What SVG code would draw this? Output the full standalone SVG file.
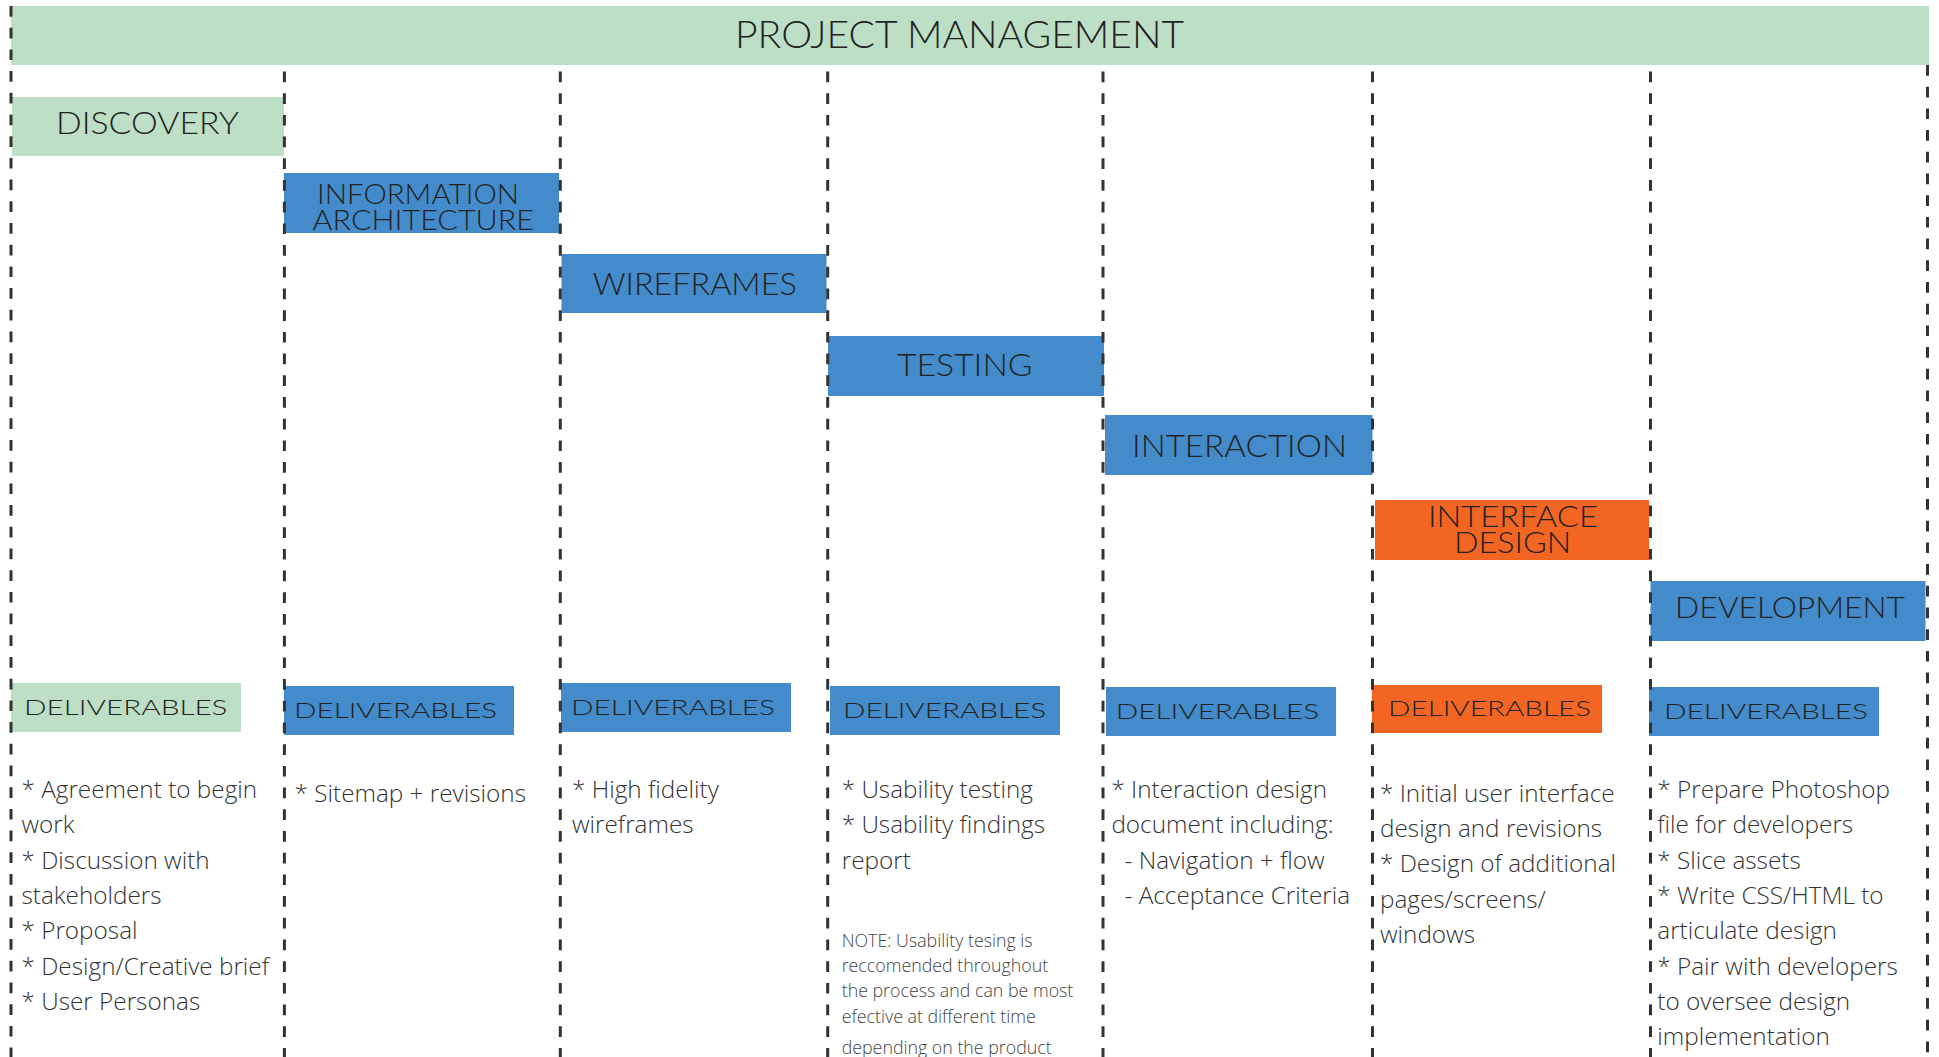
<svg xmlns="http://www.w3.org/2000/svg" width="1939" height="1057" viewBox="0 0 1939 1057">
  <style>
    .green { fill: #bcdfc6; }
    .blue { fill: #438bca; }
    .orange { fill: #f26522; }
    .head { font-family: Lato, "Open Sans", "Liberation Sans", sans-serif; font-weight: 300; fill: #222; }
    .deliv { font-family: Lato, "Liberation Sans", sans-serif; font-weight: 300; font-size: 22px; fill: #222; }
    .body { font-family: "Open Sans", "Liberation Sans", sans-serif; font-weight: 300; font-size: 24.3px; fill: #333; }
    .note { font-family: "Open Sans", "Liberation Sans", sans-serif; font-weight: 300; font-size: 17.8px; fill: #444; }
    .divider { stroke: #333; stroke-width: 3; stroke-dasharray: 10.7 11; fill: none; }
  </style>

  <!-- header banner -->
  <g id="project-management">
    <rect class="green" x="11" y="6" width="1918" height="59"/>
    <text class="head" x="735" y="48.3" font-size="37" textLength="449" lengthAdjust="spacingAndGlyphs">PROJECT MANAGEMENT</text>
  </g>

  <!-- phase bars -->
  <g id="discovery">
    <rect class="green" x="12" y="97" width="272" height="59"/>
    <text class="head" x="56" y="134" font-size="31" textLength="183" lengthAdjust="spacingAndGlyphs">DISCOVERY</text>
  </g>
  <g id="information-architecture">
    <rect class="blue" x="284" y="173" width="275" height="60"/>
    <text class="head" font-size="28">
      <tspan x="317" y="204" textLength="202" lengthAdjust="spacingAndGlyphs">INFORMATION</tspan>
      <tspan x="312.5" y="230" textLength="221.5" lengthAdjust="spacingAndGlyphs">ARCHITECTURE</tspan>
    </text>
  </g>
  <g id="wireframes">
    <rect class="blue" x="561.5" y="254" width="265" height="59"/>
    <text class="head" x="592.7" y="295" font-size="30.5" textLength="204" lengthAdjust="spacingAndGlyphs">WIREFRAMES</text>
  </g>
  <g id="testing">
    <rect class="blue" x="828" y="336" width="276" height="60"/>
    <text class="head" x="897" y="375.7" font-size="31" textLength="135.6" lengthAdjust="spacingAndGlyphs">TESTING</text>
  </g>
  <g id="interaction">
    <rect class="blue" x="1105" y="415" width="267.5" height="60"/>
    <text class="head" x="1132" y="457" font-size="30.5" textLength="215" lengthAdjust="spacingAndGlyphs">INTERACTION</text>
  </g>
  <g id="interface-design">
    <rect class="orange" x="1375" y="500" width="274" height="60"/>
    <text class="head" font-size="29.5">
      <tspan x="1428" y="527.3" textLength="170" lengthAdjust="spacingAndGlyphs">INTERFACE</tspan>
      <tspan x="1454" y="553.3" textLength="117" lengthAdjust="spacingAndGlyphs">DESIGN</tspan>
    </text>
  </g>
  <g id="development">
    <rect class="blue" x="1650.5" y="581" width="275" height="60"/>
    <text class="head" x="1675" y="618.3" font-size="30" textLength="230" lengthAdjust="spacingAndGlyphs">DEVELOPMENT</text>
  </g>

  <!-- deliverables per column -->
  <g id="deliverables-discovery">
    <rect class="green" x="11" y="683" width="230" height="49"/>
    <text class="deliv" x="24" y="715" textLength="203.5" lengthAdjust="spacingAndGlyphs">DELIVERABLES</text>
    <text class="body">
      <tspan x="21.5" y="798">* Agreement to begin</tspan>
      <tspan x="21.5" y="833.3">work</tspan>
      <tspan x="21.5" y="868.6">* Discussion with</tspan>
      <tspan x="21.5" y="904">stakeholders</tspan>
      <tspan x="21.5" y="939.3">* Proposal</tspan>
      <tspan x="21.5" y="974.6">* Design/Creative brief</tspan>
      <tspan x="21.5" y="1010">* User Personas</tspan>
    </text>
  </g>
  <g id="deliverables-ia">
    <rect class="blue" x="284" y="686" width="230" height="49"/>
    <text class="deliv" x="294" y="718.3" textLength="203" lengthAdjust="spacingAndGlyphs">DELIVERABLES</text>
    <text class="body">
      <tspan x="294.6" y="801.7">* Sitemap + revisions</tspan>
    </text>
  </g>
  <g id="deliverables-wireframes">
    <rect class="blue" x="561" y="683" width="230" height="49"/>
    <text class="deliv" x="571" y="715" textLength="204" lengthAdjust="spacingAndGlyphs">DELIVERABLES</text>
    <text class="body">
      <tspan x="572" y="798">* High fidelity</tspan>
      <tspan x="572" y="833.3">wireframes</tspan>
    </text>
  </g>
  <g id="deliverables-testing">
    <rect class="blue" x="830" y="686" width="230" height="49"/>
    <text class="deliv" x="843" y="718" textLength="203" lengthAdjust="spacingAndGlyphs">DELIVERABLES</text>
    <text class="body">
      <tspan x="841.7" y="798">* Usability testing</tspan>
      <tspan x="841.7" y="833.3">* Usability findings</tspan>
      <tspan x="841.7" y="868.6">report</tspan>
    </text>
    <text class="note">
      <tspan x="841.7" y="946.7">NOTE: Usability tesing is</tspan>
      <tspan x="841.7" y="972">reccomended throughout</tspan>
      <tspan x="841.7" y="997.3">the process and can be most</tspan>
      <tspan x="841.7" y="1022.7">efective at different time</tspan>
      <tspan x="841.7" y="1054">depending on the product</tspan>
    </text>
  </g>
  <g id="deliverables-interaction">
    <rect class="blue" x="1106" y="687" width="230" height="49"/>
    <text class="deliv" x="1115.7" y="719.3" textLength="203.5" lengthAdjust="spacingAndGlyphs">DELIVERABLES</text>
    <text class="body">
      <tspan x="1111.4" y="798">* Interaction design</tspan>
      <tspan x="1111.4" y="833.3">document including:</tspan>
      <tspan x="1124.6" y="868.6">- Navigation + flow</tspan>
      <tspan x="1124.6" y="904">- Acceptance Criteria</tspan>
    </text>
  </g>
  <g id="deliverables-interface-design">
    <rect class="orange" x="1372" y="685" width="230" height="48"/>
    <text class="deliv" x="1388" y="715.7" textLength="203" lengthAdjust="spacingAndGlyphs">DELIVERABLES</text>
    <text class="body">
      <tspan x="1380" y="801.7">* Initial user interface</tspan>
      <tspan x="1380" y="837">design and revisions</tspan>
      <tspan x="1380" y="872.3">* Design of additional</tspan>
      <tspan x="1380" y="907.6">pages/screens/</tspan>
      <tspan x="1380" y="943">windows</tspan>
    </text>
  </g>
  <g id="deliverables-development">
    <rect class="blue" x="1649" y="687" width="230" height="49"/>
    <text class="deliv" x="1664" y="719.3" textLength="204" lengthAdjust="spacingAndGlyphs">DELIVERABLES</text>
    <text class="body">
      <tspan x="1657.3" y="798">* Prepare Photoshop</tspan>
      <tspan x="1657.3" y="833.3">file for developers</tspan>
      <tspan x="1657.3" y="868.6">* Slice assets</tspan>
      <tspan x="1657.3" y="904">* Write CSS/HTML to</tspan>
      <tspan x="1657.3" y="939.3">articulate design</tspan>
      <tspan x="1657.3" y="974.6">* Pair with developers</tspan>
      <tspan x="1657.3" y="1010">to oversee design</tspan>
      <tspan x="1657.3" y="1045.3">implementation</tspan>
    </text>
  </g>

  <!-- dashed column dividers, drawn over the bars -->
  <g id="dividers">
    <line class="divider" x1="11" y1="6" x2="11" y2="1057"/>
    <line class="divider" x1="284.4" y1="71.5" x2="284.4" y2="1057"/>
    <line class="divider" x1="560.3" y1="71.5" x2="560.3" y2="1057"/>
    <line class="divider" x1="827.7" y1="71.5" x2="827.7" y2="1057"/>
    <line class="divider" x1="1103" y1="71.5" x2="1103" y2="1057"/>
    <line class="divider" x1="1372.5" y1="71.5" x2="1372.5" y2="1057"/>
    <line class="divider" x1="1650.5" y1="71.5" x2="1650.5" y2="1057"/>
    <line class="divider" x1="1927.5" y1="65" x2="1927.5" y2="1057"/>
  </g>
</svg>
